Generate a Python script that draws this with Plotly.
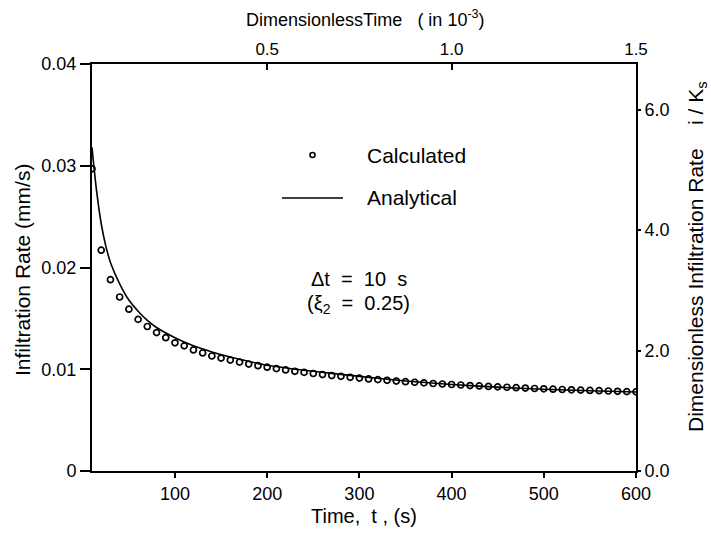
import plotly.graph_objects as go

# ---- data ----
calc_t = list(range(10, 601, 10))
calc_i = [0.0297, 0.0217, 0.0188, 0.0171, 0.0159, 0.0149, 0.0142, 0.0136, 0.0131, 0.0126,
          0.0123, 0.0119, 0.0116, 0.0113, 0.0111, 0.0109, 0.0107, 0.01051, 0.01035, 0.0102,
          0.01006, 0.00993, 0.0098, 0.00969, 0.00958, 0.00948, 0.00938, 0.0093, 0.00921, 0.00913,
          0.00905, 0.00898, 0.00891, 0.00884, 0.00878, 0.00872, 0.00866, 0.0086, 0.00855, 0.0085,
          0.00845, 0.0084, 0.00836, 0.00831, 0.00827, 0.00823, 0.00819, 0.00815, 0.00811, 0.00808,
          0.00804, 0.00801, 0.00798, 0.00795, 0.00792, 0.00789, 0.00786, 0.00783, 0.0078, 0.00778]

anal_t = [10, 12, 15, 20, 25, 30, 40, 50, 60, 70, 80, 100, 120, 140, 160, 200, 250, 300, 350,
          400, 450, 500, 550, 600]
anal_i = [0.0318, 0.0300, 0.0275, 0.0243, 0.0221, 0.0205, 0.0184, 0.0168, 0.0157, 0.0148, 0.0141,
          0.0131, 0.0123, 0.0117, 0.0112, 0.0104, 0.0098, 0.0093, 0.00885, 0.0085, 0.00824,
          0.00804, 0.00788, 0.00776]

x_ticks = [100, 200, 300, 400, 500, 600]
y_ticks = [0, 0.01, 0.02, 0.03, 0.04]
y_tick_text = ["0", "0.01", "0.02", "0.03", "0.04"]
top_ticks = [0.5, 1.0, 1.5]
top_tick_text = ["0.5", "1.0", "1.5"]
right_ticks = [0, 2, 4, 6]
right_tick_text = ["0.0", "2.0", "4.0", "6.0"]

FONT = "Liberation Sans, Arial, Helvetica, sans-serif"
W, H = 711, 537
L, R, T, B = 92, 75, 64, 66
pw, ph = W - L - R, H - T - B

def px(x):
    return (x - L) / pw

def py(y):
    return (H - B - y) / ph

fig = go.Figure()
fig.add_trace(go.Scatter(x=anal_t, y=anal_i, mode="lines",
                         line=dict(color="black", width=1.6, shape="spline", smoothing=0.6),
                         showlegend=False, hoverinfo="skip"))
fig.add_trace(go.Scatter(x=calc_t, y=calc_i, mode="markers",
                         marker=dict(symbol="circle-open", size=6, color="black",
                                     line=dict(width=1.7, color="black")),
                         showlegend=False))
# invisible traces to activate the secondary axes
fig.add_trace(go.Scatter(x=[0.5], y=[0], xaxis="x2", yaxis="y", mode="markers",
                         marker=dict(opacity=0), showlegend=False, hoverinfo="skip"))
fig.add_trace(go.Scatter(x=[10], y=[0], xaxis="x", yaxis="y2", mode="markers",
                         marker=dict(opacity=0), showlegend=False, hoverinfo="skip"))

def axis_common(size):
    return dict(showgrid=False, zeroline=False, showline=True, linecolor="black",
                linewidth=2, tickcolor="black", tickwidth=1.5,
                tickfont=dict(family=FONT, size=size, color="black"))

fig.update_layout(
    width=W, height=H,
    margin=dict(l=L, r=R, t=T, b=B),
    paper_bgcolor="white", plot_bgcolor="white",
    font=dict(family=FONT, color="black"),
    xaxis=dict(range=[10, 600], tickvals=x_ticks, ticks="outside", ticklen=5,
               **axis_common(18)),
    yaxis=dict(range=[0, 0.04], tickvals=y_ticks, ticktext=y_tick_text, ticks="outside",
               ticklen=10, **axis_common(18)),
    xaxis2=dict(range=[10 / 400, 1.5], overlaying="x", side="top", tickvals=top_ticks,
                ticktext=top_tick_text, ticks="inside", ticklen=6, **axis_common(17)),
    yaxis2=dict(range=[0, 6.76], overlaying="y", side="right", tickvals=right_ticks,
                ticktext=right_tick_text, ticks="outside", ticklen=3, **axis_common(18)),
)

ann = []
def text(x, y, s, size, angle=0, xanchor="center"):
    ann.append(dict(x=px(x), y=py(y), xref="paper", yref="paper", text=s, showarrow=False,
                    textangle=angle, xanchor=xanchor, yanchor="middle",
                    font=dict(family=FONT, size=size, color="black")))

text(365, 18, "DimensionlessTime  &nbsp;( in 10<sup>-3</sup>)", 18)
text(364, 516, "Time,  t , (s)", 20)
text(22, 270, "Infiltration Rate (mm/s)", 21, angle=-90)
text(697, 257, "Dimensionless Infiltration Rate &nbsp;&nbsp;&nbsp;i / K<sub>s</sub>", 21, angle=-90)
text(365, 155, "Calculated", 21, xanchor="left")
text(365, 197, "Analytical", 21, xanchor="left")
text(309, 279, "\u0394t  =  10  s", 20, xanchor="left")
text(305, 304, "(\u03be<sub>2</sub>  =  0.25)", 20, xanchor="left")
fig.update_layout(annotations=ann)

fig.update_layout(shapes=[
    dict(type="circle", xref="paper", yref="paper",
         x0=px(310), x1=px(315), y0=py(157.5), y1=py(152.5),
         line=dict(color="black", width=1.6)),
    dict(type="line", xref="paper", yref="paper",
         x0=px(282), x1=px(343), y0=py(198), y1=py(198),
         line=dict(color="black", width=1.5)),
])

fig.write_html("out.html")
